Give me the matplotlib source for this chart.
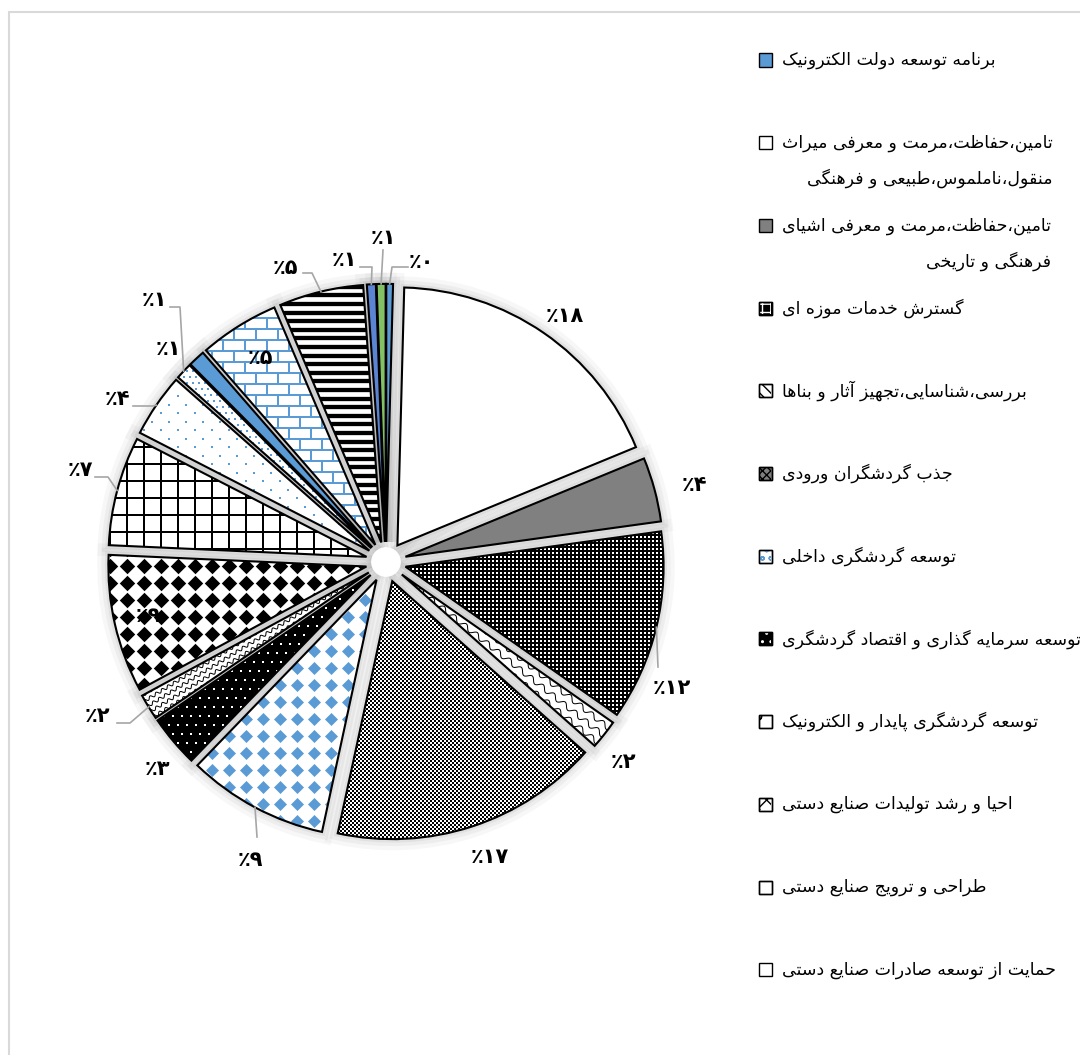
import numpy as np
import matplotlib.pyplot as plt
from matplotlib.patches import Wedge, Rectangle, Circle
from matplotlib.collections import LineCollection

plt.rcParams['font.family'] = ['DejaVu Sans']
plt.rcParams['hatch.linewidth'] = 1.0

# ---------------- data ----------------
legend_names = [
    'برنامه توسعه دولت الکترونیک',
    'تامین،حفاظت،مرمت و معرفی میراث\nمنقول،ناملموس،طبیعی و فرهنگی',
    'تامین،حفاظت،مرمت و معرفی اشیای\nفرهنگی و تاریخی',
    'گسترش خدمات موزه ای',
    'بررسی،شناسایی،تجهیز آثار و بناها',
    'جذب گردشگران ورودی',
    'توسعه گردشگری داخلی',
    'توسعه سرمایه گذاری و اقتصاد گردشگری',
    'توسعه گردشگری پایدار و الکترونیک',
    'احیا و رشد تولیدات صنایع دستی',
    'طراحی و ترویج صنایع دستی',
    'حمایت از توسعه صادرات صنایع دستی',
]
# share of each programme (percent), clockwise from 12 o'clock
shares = [0.42, 18.36, 4.03, 11.92, 1.83, 16.83, 8.83, 3.25, 1.61,
          8.64, 6.83, 3.97, 1.03, 1.05, 5.00, 5.28, 0.56, 0.56]

# ---------------- layout ----------------
W, H = 1080, 1055
CX, CY, R_PX = 386, 562, 258      # pie centre / radius in pixels
PX = 1 / R_PX                      # one pixel in data units
LIM = 335 * PX
EXPLODE = 0.078
BLUE = '#5B9BD5'

# slice look: (face colour, pattern)
styles = [
    (BLUE, None), ('white', None), ('#808080', None), ('black', 'dark'),
    ('white', 'scallop'), ('white', 'checker'), ('white', 'bluediamond'),
    ('black', 'whitedots'), ('white', 'wave'), ('white', 'blackdiamond'),
    ('white', 'grid'), ('white', 'bluedots'), ('white', 'bluedash'),
    (BLUE, None), ('white', 'brick'), ('white', 'stripes'),
    ('#5B84D2', None), ('#84C164', None),
]

# label centres (pixels of the reference) and leader elbows
label_px = [(421, 262), (565, 316), (694, 485), (672, 688), (623, 762),
            (490, 857), (250, 860), (157, 769), (97, 716), (148, 616),
            (80, 470), (117, 399), (154, 300), (168, 349), (260, 358),
            (285, 268), (344, 260), (383, 238)]
leaders = {0: [(392, 267), (408, 267)], 16: [(372, 267), (360, 267)],
           17: [(383, 250)], 15: [(312, 273), (303, 273)],
           12: [(180, 307), (170, 307)], 11: [(153, 406), (133, 406)],
           10: [(108, 477), (95, 477)], 8: [(130, 723), (117, 723)],
           6: [(257, 837)], 3: [(658, 667)]}

# legend markers: (face, hatch, hatch colour)
legend_marks = [
    (BLUE, None, None), ('white', None, None), ('#808080', None, None),
    ('black', '++', 'white'), ('white', '\\\\\\', 'black'),
    ('#7f7f7f', 'xxxx', 'black'), ('white', 'oo', BLUE),
    ('black', '..', 'white'), ('white', 'o', 'black'),
    ('white', 'xx', 'black'), ('white', '|', 'black'), ('white', None, None),
]


# ---------------- helpers ----------------
FORMS = {'ا': 0xFE8D, 'آ': 0xFE81, 'ب': 0xFE8F, 'پ': 0xFB56, 'ت': 0xFE95,
         'ث': 0xFE99, 'ج': 0xFE9D, 'چ': 0xFB7A, 'ح': 0xFEA1, 'خ': 0xFEA5,
         'د': 0xFEA9, 'ذ': 0xFEAB, 'ر': 0xFEAD, 'ز': 0xFEAF, 'ژ': 0xFB8A,
         'س': 0xFEB1, 'ش': 0xFEB5, 'ص': 0xFEB9, 'ض': 0xFEBD, 'ط': 0xFEC1,
         'ظ': 0xFEC5, 'ع': 0xFEC9, 'غ': 0xFECD, 'ف': 0xFED1, 'ق': 0xFED5,
         'ک': 0xFB8E, 'گ': 0xFB92, 'ل': 0xFEDD, 'م': 0xFEE1, 'ن': 0xFEE5,
         'ه': 0xFEE9, 'و': 0xFEED, 'ی': 0xFBFC}
RIGHT_ONLY = set('اآدذرزژو')


def shape_line(line):
    """Join Persian letters into presentation forms, return visual order."""
    out = []
    for i, ch in enumerate(line):
        if ch not in FORMS:
            out.append(ch)
            continue
        prev = line[i - 1] if i > 0 else ''
        nxt = line[i + 1] if i + 1 < len(line) else ''
        jp = prev in FORMS and prev not in RIGHT_ONLY
        jn = ch not in RIGHT_ONLY and nxt in FORMS
        if ch in RIGHT_ONLY:
            k = 1 if jp else 0
        else:
            k = 3 if (jp and jn) else 1 if jp else 2 if jn else 0
        out.append(chr(FORMS[ch] + k))
    return ''.join(reversed(out))


def shape(text):
    return '\n'.join(shape_line(l) for l in text.split('\n'))


def fa_pct(v):
    return '٪' + str(int(round(v))).translate(str.maketrans('0123456789', '۰۱۲۳۴۵۶۷۸۹'))


def px2d(x, y):
    return (x - CX) * PX, (CY - y) * PX


def lattice(sx, sy, stagger=False):
    gx = np.arange(-1.4, 1.4, sx * PX)
    gy = np.arange(-1.4, 1.4, sy * PX)
    xx, yy = np.meshgrid(gx, gy)
    if stagger:
        xx[1::2] += sx * PX / 2
    return xx.ravel(), yy.ravel()


def add_lines(segs, color, lw_px):
    lc = LineCollection(segs, colors=color, linewidths=lw_px * 0.72, zorder=2)
    ax.add_collection(lc)
    return lc


def waves(phi, gap, amp, wl):
    u = np.linspace(-1.4, 1.4, 1600)
    segs = []
    for v0 in np.arange(-1.4, 1.4, gap * PX):
        v = v0 + amp * PX * np.sin(2 * np.pi * u / (wl * PX))
        segs.append(np.column_stack([u * np.cos(phi) - v * np.sin(phi),
                                     u * np.sin(phi) + v * np.cos(phi)]))
    return segs


def texture(tile, cell):
    n = 680 // (cell * tile.shape[0]) + 1
    arr = np.tile(tile, (n, n))
    half = arr.shape[0] * cell * PX / 2
    return ax.imshow(arr, cmap='gray', vmin=0, vmax=1, interpolation='nearest',
                     extent=(-half, half, -half, half), zorder=2)


def add_pattern(kind, w):
    phi = np.deg2rad((w.theta1 + w.theta2) / 2)
    arts = []
    if kind == 'dark':
        arts.append(texture(np.array([[1, 0], [0, 0]]), 2))
    elif kind == 'checker':
        arts.append(texture(np.array([[1, 0], [0, 1]]), 2))
    elif kind == 'bluediamond':
        x, y = lattice(17, 17)
        arts.append(ax.scatter(x, y, s=44, marker='D', color=BLUE, lw=0, zorder=2))
    elif kind == 'blackdiamond':
        x, y = lattice(17, 17)
        arts.append(ax.scatter(x, y, s=62, marker='D', color='black', lw=0, zorder=2))
    elif kind == 'whitedots':
        x, y = lattice(9, 9, True)
        arts.append(ax.scatter(x, y, s=2.5, marker='s', color='white', lw=0, zorder=2))
    elif kind == 'bluedots':
        x, y = lattice(17, 8.5, True)
        arts.append(ax.scatter(x, y, s=4.5, marker='s', color=BLUE, lw=0, zorder=2))
    elif kind == 'bluedash':
        x, y = lattice(6, 6, True)
        arts.append(ax.scatter(x, y, s=3, marker='s', color=BLUE, lw=0, zorder=2))
    elif kind == 'grid':
        g = np.arange(-1.4, 1.4, 17 * PX)
        segs = [[(-1.4, t), (1.4, t)] for t in g] + [[(t, -1.4), (t, 1.4)] for t in g]
        arts.append(add_lines(segs, 'black', 2))
    elif kind == 'stripes':
        g = np.arange(-1.4, 1.4, 8.6 * PX)
        arts.append(add_lines([[(-1.4, t), (1.4, t)] for t in g], 'black', 4.3))
    elif kind == 'brick':
        hh, wb = 11 * PX, 22 * PX
        rows = np.arange(-1.4, 1.4, hh)
        segs = [[(-1.4, t), (1.4, t)] for t in rows]
        for k, t in enumerate(rows):
            for xb in np.arange(-1.4, 1.4, wb) + (k % 2) * wb / 2:
                segs.append([(xb, t), (xb, t + hh)])
        arts.append(add_lines(segs, BLUE, 2))
    elif kind == 'wave':
        arts.append(add_lines(waves(phi, 6, 1.5, 7), 'black', 1))
    elif kind == 'scallop':
        arts.append(add_lines(waves(phi, 9, 2.5, 14), 'black', 1))
    for a in arts:
        a.set_clip_path(w)


# ---------------- figure ----------------
fig = plt.figure(figsize=(W / 100, H / 100), dpi=100)
ax = fig.add_axes([(CX - 335) / W, (H - CY - 335) / H, 670 / W, 670 / H])

wedges, _ = ax.pie(shares, startangle=90, counterclock=False,
                   explode=[EXPLODE] * len(shares), radius=1.0,
                   wedgeprops=dict(linewidth=0))

for w, (face, kind) in zip(wedges, styles):
    w.set_facecolor(face)
    w.set_edgecolor('none')
    # soft shadow around each slice
    for lw, al in [(16, 0.05), (10, 0.07), (5, 0.09)]:
        ax.add_patch(Wedge(w.center, w.r, w.theta1, w.theta2, fill=False,
                           ec='#707070', lw=lw, alpha=al, zorder=0.5))
    if kind:
        add_pattern(kind, w)
    ax.add_patch(Wedge(w.center, w.r, w.theta1, w.theta2, fill=False,
                       ec='black', lw=1.5, zorder=3))
# the hub where the gaps meet stays light
ax.add_patch(Circle((0, 0), 0.055, color='white', zorder=0.8))

# percentage labels and leader lines
for i, (w, v) in enumerate(zip(wedges, shares)):
    lx, ly = px2d(*label_px[i])
    ax.text(lx, ly, fa_pct(v), ha='center', va='center', fontsize=15,
            fontweight='bold', color='black', zorder=5)
    if i in leaders:
        mid = np.deg2rad((w.theta1 + w.theta2) / 2)
        pts = [(w.center[0] + w.r * np.cos(mid), w.center[1] + w.r * np.sin(mid))]
        pts += [px2d(*p) for p in leaders[i]]
        xs, ys = zip(*pts)
        ax.plot(xs, ys, color='#a6a6a6', lw=1.2, zorder=4)

ax.set_xlim(-LIM, LIM)
ax.set_ylim(-LIM, LIM)
ax.set_aspect('equal')
ax.axis('off')

# legend (first twelve programmes)
for k, name in enumerate(legend_names):
    y = 60 + k * 82.7
    face, hatch, hc = legend_marks[k]
    fig.add_artist(Rectangle((758.5 / W, (H - y - 6.5) / H), 13 / W, 13 / H,
                             transform=fig.transFigure, facecolor=face,
                             edgecolor='black', lw=1.0))
    if hatch:
        fig.add_artist(Rectangle((759 / W, (H - y - 6) / H), 12 / W, 12 / H,
                                 transform=fig.transFigure, facecolor='none',
                                 edgecolor=hc, lw=0, hatch=hatch))
        fig.add_artist(Rectangle((758.5 / W, (H - y - 6.5) / H), 13 / W, 13 / H,
                                 transform=fig.transFigure, fill=False,
                                 edgecolor='black', lw=1.0))
    nlines = name.count('\n') + 1
    fig.text(782 / W, (H - y - (nlines - 1) * 18.5) / H, shape(name),
             ha='left', va='center', multialignment='right', fontsize=12.5,
             linespacing=2.1, color='black')

# chart frame
fig.add_artist(Rectangle((9 / W, -0.05), 1.2, (H - 12) / H + 0.05,
                         transform=fig.transFigure, fill=False,
                         edgecolor='#d9d9d9', lw=1.5))

fig.savefig('out.png', dpi=100)
